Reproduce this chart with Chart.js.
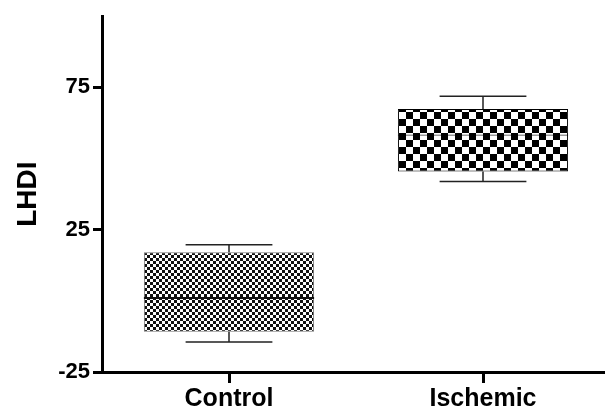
<!DOCTYPE html>
<html>
<head>
<meta charset="utf-8">
<script src="https://cdn.jsdelivr.net/npm/chart.js@4/dist/chart.umd.min.js"></script>
<style>
  html, body { margin: 0; padding: 0; background: #fff; overflow: hidden; }
  #chart { display: block; }
</style>
</head>
<body>
<canvas id="chart" width="610" height="412"></canvas>
<script>
const categories = ['Control', 'Ischemic'];
const whiskerMin = [-14.5, 41.9];
const q1 = [-10.9, 45.4];
const medians = [1.0, 58.2];
const q3 = [17.1, 67.4];
const whiskerMax = [19.7, 71.9];
const yTicks = [-25, 25, 75];

const checker = (size, fg, bg) => {
    const c = document.createElement('canvas');
    c.width = c.height = size * 2;
    const g = c.getContext('2d');
    g.fillStyle = bg;
    g.fillRect(0, 0, size * 2, size * 2);
    g.fillStyle = fg;
    g.fillRect(0, 0, size, size);
    g.fillRect(size, size, size, size);
    return g.createPattern(c, 'repeat');
};

const fineCheck = checker(3, '#111', '#fff');
const coarseCheck = checker(7, '#000', '#fff');

// whiskers, caps and median lines
const boxExtras = {
    id: 'boxExtras',
    afterDatasetsDraw(chart) {
        const { ctx, scales: { x, y } } = chart;
        const bars = chart.getDatasetMeta(0).data;
        ctx.save();
        categories.forEach((cat, i) => {
            const cx = x.getPixelForValue(i);
            const w = bars[i].width;
            const capHalf = w * 0.255;
            ctx.strokeStyle = '#222';
            ctx.lineWidth = 1.5;
            ctx.beginPath();
            ctx.moveTo(cx, y.getPixelForValue(q3[i]));
            ctx.lineTo(cx, y.getPixelForValue(whiskerMax[i]));
            ctx.moveTo(cx, y.getPixelForValue(q1[i]));
            ctx.lineTo(cx, y.getPixelForValue(whiskerMin[i]));
            ctx.moveTo(cx - capHalf, y.getPixelForValue(whiskerMax[i]));
            ctx.lineTo(cx + capHalf, y.getPixelForValue(whiskerMax[i]));
            ctx.moveTo(cx - capHalf, y.getPixelForValue(whiskerMin[i]));
            ctx.lineTo(cx + capHalf, y.getPixelForValue(whiskerMin[i]));
            ctx.stroke();
            ctx.strokeStyle = i === 0 ? '#111' : 'rgba(0,0,0,0.6)';
            ctx.lineWidth = i === 0 ? 2 : 1;
            ctx.beginPath();
            ctx.moveTo(cx - w / 2, y.getPixelForValue(medians[i]));
            ctx.lineTo(cx + w / 2, y.getPixelForValue(medians[i]));
            ctx.stroke();
        });
        ctx.restore();
    }
};

const family = "'Liberation Sans', Arial, sans-serif";

new Chart(document.getElementById('chart'), {
    type: 'bar',
    data: {
        labels: categories,
        datasets: [{
            data: q1.map((v, i) => [v, q3[i]]),
            backgroundColor: [fineCheck, coarseCheck],
            borderColor: ['#777', '#000'],
            borderWidth: 1,
            borderSkipped: false,
            barPercentage: 0.67,
            categoryPercentage: 1
        }]
    },
    options: {
        responsive: false,
        animation: false,
        layout: { padding: { top: 14, right: 0, left: 0, bottom: 0 } },
        plugins: { legend: { display: false }, tooltip: { enabled: false } },
        scales: {
            x: {
                offset: true,
                grid: { offset: false, drawOnChartArea: false, drawTicks: true, tickLength: 11, color: '#000', lineWidth: 3 },
                border: { color: '#000', width: 3 },
                ticks: { color: '#000', font: { family, size: 25, weight: 'bold' }, padding: 1 },
                afterFit: (scale) => { scale.height = 40; }
            },
            y: {
                min: -25,
                max: 100,
                afterBuildTicks: (scale) => { scale.ticks = yTicks.map(v => ({ value: v })); },
                grid: { drawOnChartArea: false, drawTicks: true, tickLength: 9, color: '#000', lineWidth: 3 },
                border: { color: '#000', width: 3 },
                ticks: { color: '#000', font: { family, size: 22, weight: 'bold' }, padding: 3 },
                title: {
                    display: true,
                    text: 'LHDI',
                    color: '#000',
                    font: { family, size: 28, weight: 'bold' },
                    padding: { top: 11, bottom: 0 }
                },
                afterFit: (scale) => { scale.width = 102; }
            }
        }
    },
    plugins: [boxExtras]
});
</script>
</body>
</html>
